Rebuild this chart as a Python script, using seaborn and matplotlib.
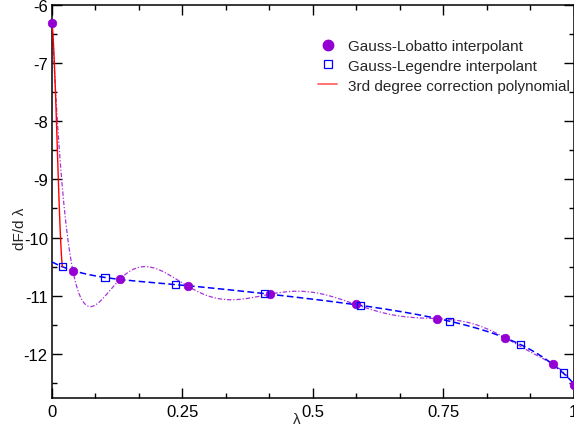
import numpy as np
import pandas as pd
import matplotlib
matplotlib.use("Agg")
import matplotlib.pyplot as plt
import seaborn as sns
from matplotlib.lines import Line2D
from matplotlib.ticker import MultipleLocator, FixedLocator, FixedFormatter

# ---- data ----
lobatto_x = [0.0, 0.0402, 0.1306, 0.2610, 0.4174, 0.5826, 0.7390, 0.8694, 0.9598, 1.0]
lobatto_y = [-6.31, -10.576, -10.715, -10.84, -10.975, -11.15, -11.395, -11.727, -12.174, -12.54]
legendre_x = [0.0199, 0.1017, 0.2372, 0.4083, 0.5917, 0.7628, 0.8983, 0.9801]
legendre_y = [-10.502, -10.687, -10.81, -10.965, -11.167, -11.44, -11.84, -12.33]
corr_x = [0.0, 0.0071, 0.0134, 0.0199]
corr_y = [-6.31, -7.62, -9.33, -10.50]
xtick_vals = [0, 0.25, 0.5, 0.75, 1]
xtick_labels = ["0", "0.25", "0.5", "0.75", "1"]
ytick_vals = [-12, -11, -10, -9, -8, -7, -6]
ytick_labels = ["-12", "-11", "-10", "-9", "-8", "-7", "-6"]
legend_labels = ["Gauss-Lobatto interpolant", "Gauss-Legendre interpolant",
                 "3rd degree correction polynomial"]

sns.set_style("ticks")
plt.rcParams["font.family"] = ["Liberation Sans", "DejaVu Sans"]

PURPLE = "#9400d3"
BLUE = "#0000ff"
RED = "#ff0000"

# interpolating polynomials through the nodes (as the legend describes)
P_lob = np.polynomial.Polynomial.fit(lobatto_x, lobatto_y, deg=len(lobatto_x) - 1)
P_leg = np.polynomial.Polynomial.fit(legendre_x, legendre_y, deg=len(legendre_x) - 1)
P_cor = np.polynomial.Polynomial.fit(corr_x, corr_y, deg=3)

grid = np.linspace(0, 1, 800)
df_lob = pd.DataFrame({"x": grid, "y": P_lob(grid)})
df_leg = pd.DataFrame({"x": grid, "y": P_leg(grid)})
gc = np.linspace(corr_x[0], corr_x[-1], 100)
df_cor = pd.DataFrame({"x": gc, "y": P_cor(gc)})

fig = plt.figure(figsize=(5.74, 4.31), dpi=100)
ax = fig.add_axes([52 / 574, 1 - 399 / 431, 521.5 / 574, 393 / 431])

sns.lineplot(data=df_lob, x="x", y="y", ax=ax, sort=False, color=PURPLE,
             linewidth=0.9, linestyle=(0, (3.5, 1.5, 1.0, 1.5)), alpha=0.8, zorder=2)
sns.lineplot(data=df_leg, x="x", y="y", ax=ax, sort=False, color=BLUE,
             linewidth=1.1, linestyle=(0, (4.3, 2.2)), zorder=3)
sns.lineplot(data=df_cor, x="x", y="y", ax=ax, sort=False, color=RED,
             linewidth=1.0, zorder=4)

sns.scatterplot(x=lobatto_x, y=lobatto_y, ax=ax, marker="o", color=PURPLE,
                s=38, edgecolor=PURPLE, linewidth=0.5, zorder=5, clip_on=False)
sns.scatterplot(x=legendre_x, y=legendre_y, ax=ax, marker="s", facecolor="none",
                edgecolor=BLUE, s=26, linewidth=0.9, zorder=6, clip_on=False)

ax.set_xlim(0, 1)
ax.set_ylim(-12.76, -6)
ax.xaxis.set_major_locator(FixedLocator(xtick_vals))
ax.xaxis.set_major_formatter(FixedFormatter(xtick_labels))
ax.yaxis.set_major_locator(FixedLocator(ytick_vals))
ax.yaxis.set_major_formatter(FixedFormatter(ytick_labels))
ax.xaxis.set_minor_locator(MultipleLocator(1 / 12))
ax.yaxis.set_minor_locator(MultipleLocator(0.5))
ax.tick_params(which="both", direction="in", top=True, right=True, width=1.0,
               colors="black", labelsize=12)
ax.tick_params(which="major", length=7)
ax.tick_params(which="minor", length=3.5)
ax.tick_params(axis="x", pad=4)
ax.tick_params(axis="y", pad=3)
for s in ax.spines.values():
    s.set_linewidth(1.1)
    s.set_color("black")

ax.set_xlabel("λ", fontsize=11)
ax.set_ylabel("dF/d λ", fontsize=11)
ax.xaxis.set_label_coords(0.4683, -0.036)
ax.yaxis.set_label_coords(-0.048, 0.4326)

handles = [
    Line2D([], [], marker="o", color=PURPLE, linestyle="None", markersize=7.5),
    Line2D([], [], marker="s", markerfacecolor="none", markeredgecolor=BLUE,
           linestyle="None", markersize=5.5, markeredgewidth=0.9),
    Line2D([], [], color=RED, linewidth=1.3, alpha=0.6),
]
ax.legend(handles, legend_labels, loc="upper left",
          bbox_to_anchor=(318 / 574, 1 - 40 / 431), bbox_transform=fig.transFigure,
          frameon=False, borderpad=0, borderaxespad=0, handlelength=1.25,
          handletextpad=0.7, labelspacing=0.38, fontsize=11)

fig.savefig("out.png", dpi=100)
